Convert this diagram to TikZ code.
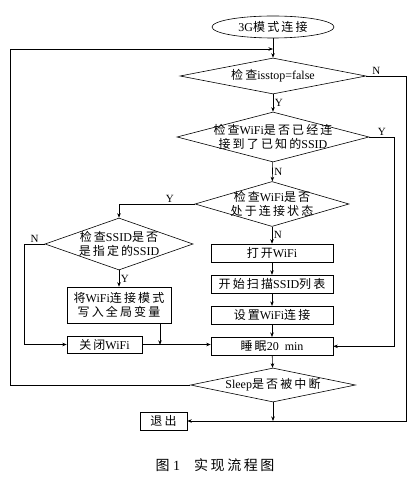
\documentclass[tikz,border=0pt]{standalone}
\usepackage{fontspec}
\setmainfont{Liberation Serif}
\newfontfamily\cjk{Noto Sans CJK SC}[LetterSpace=18]
\usetikzlibrary{shapes.geometric,arrows.meta,positioning}
\newcommand{\zh}[1]{{\cjk #1}}

\begin{document}
\begin{tikzpicture}[
    x=1pt, y=-1pt,
    node distance=12.5pt,
    >={Stealth[length=4.5pt, width=3.5pt]},
    line width=0.6pt,
    font=\fontsize{12}{14}\selectfont,
    procbox/.style={rectangle, draw, minimum width=122pt, minimum height=18pt, inner sep=1pt, align=center},
    decision/.style={diamond, draw, inner sep=0pt},
    yn/.style={font=\fontsize{11}{12}\selectfont, inner sep=1.5pt}
]
\useasboundingbox (0,0) rectangle (411,478);

\node[ellipse, draw, minimum width=122pt, minimum height=22pt, inner sep=0pt] (start) at (273,27) {3G\zh{模式连接}};
\node[decision, minimum width=186pt, minimum height=36pt, label={center:{\zh{检查}isstop=false}}] (chk1) at (273,76) {};
\node[decision, minimum width=192pt, minimum height=50pt, label={[align=center]center:{\zh{检查}WiFi\zh{是否已经连}\\\zh{接到了已知的}SSID}}] (chk2) at (273,137) {};
\node[decision, minimum width=154pt, minimum height=45pt, label={[align=center]center:{\zh{检查}WiFi\zh{是否}\\\zh{处于连接状态}}}] (chk3) at (272,204) {};
\node[decision, minimum width=148pt, minimum height=52pt, label={[align=center]center:{\zh{检查}SSID\zh{是否}\\\zh{是指定的}SSID}}] (chk4) at (119,244) {};

\node[procbox] (open) at (272,253) {\zh{打开}WiFi};
\node[procbox] (scan) [below=of open] {\zh{开始扫描}SSID\zh{列表}};
\node[procbox] (setw) [below=of scan] {\zh{设置}WiFi\zh{连接}};
\node[procbox] (sleep) [below=of setw] {\zh{睡眠}20\enspace min};

\node[procbox, minimum width=104pt, minimum height=36pt] (save) at (119,305) {\zh{将}WiFi\zh{连接模式}\\\zh{写入全局变量}};
\node[procbox, minimum width=75pt, minimum height=17pt] (wifioff) at (104.5,344.5) {\zh{关闭}WiFi};

\node[decision, minimum width=165pt, minimum height=34pt, label={center:{Sleep\zh{是否被中断}}}] (chk5) at (273,385) {};
\node[procbox, minimum width=47pt, minimum height=18pt] (quit) at (163.5,421) {\zh{退出}};

\coordinate (merge) at (273,49);

\node[font=\fontsize{14}{15}\selectfont] (caption) at (215,465) {\zh{图}~1\quad\zh{实现流程图}};

\draw[->] (start) -- (chk1);
\draw[->] (chk1) -- node[yn, right] {Y} (chk2);
\draw[->] (chk2) -- node[yn, right] {N} (chk3);
\draw[->] (chk3) -- node[yn, right] {N} (open);
\draw[->] (open) -- (scan);
\draw[->] (scan) -- (setw);
\draw[->] (setw) -- (sleep);
\draw[->] (sleep) -- (chk5);
\draw[->] (chk4) -- node[yn, right] {Y} (save);
\draw[->] ([xshift=41pt]save.south) -- ++(0,21.5);
\draw[->] (wifioff.east) -- (wifioff.east -| sleep.west);

\draw[->] (chk1.east) -- node[yn, above, pos=0.25] {N} ++(40,0) |- (quit.east);
\draw[->] (chk2.east) -- node[yn, above] {Y} ++(25,0) |- (sleep.east);
\draw[->] (chk3.west) -- node[yn, above, pos=0.33] {Y} (chk3.west -| chk4.north) -- (chk4.north);
\draw[->] (chk4.west) -- node[yn, above] {N} ++(-20,0) |- (wifioff.west);
\draw[->] (chk5.west) -- ++(-180,0) |- (merge);
\draw[->] (chk5.south) -- (chk5.south |- quit.east);
\end{tikzpicture}
\end{document}
